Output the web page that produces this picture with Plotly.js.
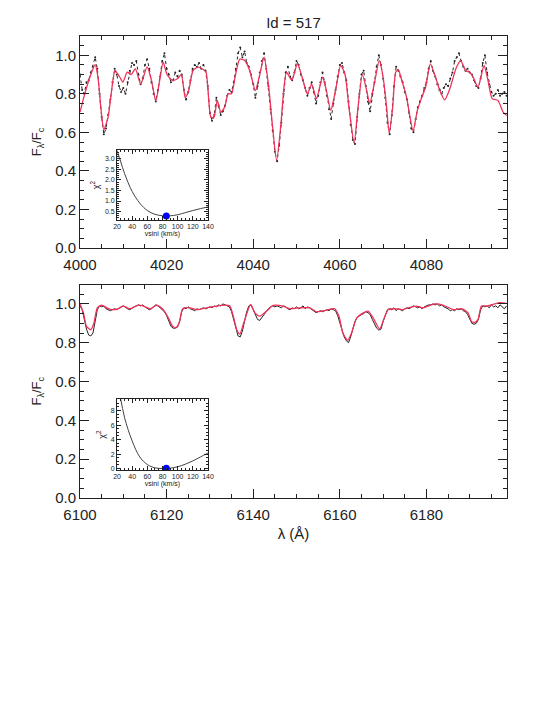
<!DOCTYPE html>
<html>
<head>
<meta charset="utf-8">
<script src="https://cdn.plot.ly/plotly-3.0.1.min.js"></script>
<style>
  html, body { margin: 0; padding: 0; background: #fff; }
  #chart { width: 534px; height: 712px; }
</style>
</head>
<body>
<div id="chart"></div>
<script>
// Id = 517 : observed spectrum (dots / black) and synthetic fit (red), two windows

// --- window 1 : 4000-4099 A ---
var fitBlueWave = [4000.0, 4001.1, 4002.5, 4003.5, 4004.15, 4004.8, 4005.5, 4006.5, 4007.2, 4008.1,
  4009.2, 4009.9, 4010.9, 4011.8, 4012.8, 4014.0, 4015.5, 4016.5, 4017.5, 4018.4,
  4019.2, 4020.1, 4021.3, 4022.5, 4023.4, 4024.3, 4025.1, 4026.1, 4027.2, 4028.2,
  4029.1, 4030.2, 4030.9, 4031.7, 4032.5, 4033.4, 4034.2, 4035.0, 4035.8, 4036.9,
  4038.1, 4039.2, 4040.5, 4041.5, 4042.5, 4043.5, 4044.4, 4045.4, 4046.4, 4047.1,
  4047.7, 4048.9, 4050.2, 4051.3, 4052.5, 4053.5, 4054.6, 4056.0, 4056.9, 4057.9,
  4059.0, 4060.2, 4061.2, 4062.1, 4063.3, 4064.2, 4065.2, 4066.2, 4066.9, 4068.1,
  4069.1, 4070.0, 4070.8, 4071.4, 4072.2, 4072.9, 4073.5, 4074.2, 4075.4, 4076.9,
  4077.9, 4078.8, 4079.8, 4080.9, 4081.9, 4083.1, 4084.2, 4085.4, 4086.8, 4087.9,
  4089.1, 4090.0, 4090.8, 4091.9, 4093.3, 4094.2, 4095.2, 4096.5, 4097.7, 4098.5];
var fitBlueFlux = [0.705, 0.80, 0.90, 0.952, 0.886, 0.731, 0.614, 0.68, 0.80, 0.92,
  0.886, 0.86, 0.912, 0.90, 0.93, 0.85, 0.94, 0.87, 0.762, 0.87,
  0.964, 0.90, 0.87, 0.878, 0.90, 0.78, 0.817, 0.92, 0.938, 0.93,
  0.912, 0.68, 0.676, 0.766, 0.705, 0.73, 0.80, 0.80, 0.886, 0.98,
  0.972, 0.92, 0.817, 0.90, 0.99, 0.85, 0.645, 0.455, 0.645, 0.834,
  0.912, 0.87, 0.955, 0.886, 0.80, 0.85, 0.774, 0.886, 0.817, 0.714,
  0.817, 0.947, 0.90, 0.73, 0.545, 0.73, 0.90, 0.817, 0.749, 0.87,
  0.972, 0.886, 0.73, 0.596, 0.73, 0.912, 0.925, 0.878, 0.783, 0.607,
  0.714, 0.774, 0.834, 0.955, 0.90, 0.817, 0.769, 0.826, 0.93, 0.972,
  0.92, 0.912, 0.886, 0.834, 0.947, 0.87, 0.774, 0.766, 0.705, 0.688];

// observed flux, sampled every 0.5 A from 4000.0
var obsBlueStart = 4000.0;
var obsBlueFlux = [
  0.90, 0.82, 0.80, 0.86, 0.87, 0.91, 0.94, 0.99, 0.93, 0.80,
  0.68, 0.59, 0.62, 0.69, 0.77, 0.86, 0.93, 0.90, 0.84, 0.81,
  0.83, 0.80, 0.86, 0.92, 0.96, 0.95, 0.97, 0.90, 0.85, 0.88,
  0.95, 0.98, 0.93, 0.86, 0.80, 0.76, 0.82, 0.89, 0.97, 1.01,
  0.93, 0.90, 0.86, 0.87, 0.91, 0.89, 0.92, 0.90, 0.82, 0.77,
  0.81, 0.87, 0.93, 0.95, 0.94, 0.96, 0.93, 0.95, 0.92, 0.84,
  0.70, 0.66, 0.69, 0.78, 0.74, 0.69, 0.71, 0.74, 0.79, 0.82,
  0.81, 0.86, 0.93, 1.01, 1.04, 0.99, 1.02, 0.96, 0.94, 0.90,
  0.85, 0.78, 0.84, 0.91, 0.97, 1.01, 0.93, 0.84, 0.72, 0.61,
  0.50, 0.45, 0.53, 0.65, 0.80, 0.91, 0.94, 0.89, 0.87, 0.91,
  0.97, 0.95, 0.90, 0.87, 0.83, 0.79, 0.83, 0.86, 0.81, 0.75,
  0.79, 0.86, 0.91, 0.86, 0.79, 0.72, 0.67, 0.75, 0.82, 0.89,
  0.95, 0.96, 0.91, 0.87, 0.76, 0.64, 0.56, 0.54, 0.68, 0.80,
  0.90, 0.92, 0.84, 0.76, 0.71, 0.80, 0.86, 0.94, 1.00, 0.95,
  0.88, 0.78, 0.65, 0.59, 0.69, 0.84, 0.94, 0.92, 0.89, 0.86,
  0.81, 0.77, 0.70, 0.62, 0.60, 0.67, 0.73, 0.76, 0.79, 0.83,
  0.86, 0.93, 0.97, 0.92, 0.89, 0.85, 0.82, 0.80, 0.83, 0.85,
  0.84, 0.88, 0.91, 0.97, 0.99, 1.01, 0.97, 0.94, 0.92, 0.93,
  0.91, 0.90, 0.87, 0.84, 0.83, 0.88, 0.96, 1.00, 0.91, 0.85,
  0.81, 0.79, 0.80, 0.82, 0.79, 0.80, 0.81, 0.79];

// --- window 2 : 6100-6199 A ---
var fitRedWave = [6100.0, 6100.8, 6101.5, 6102.5, 6103.2, 6104.0, 6105.0, 6106.2, 6107.3, 6108.8,
  6110.0, 6111.5, 6113.5, 6114.5, 6116.2, 6117.7, 6119.2, 6120.4, 6121.4, 6122.2,
  6122.9, 6123.7, 6125.4, 6126.9, 6129.2, 6131.5, 6133.5, 6134.6, 6135.4, 6136.2,
  6136.9, 6137.8, 6139.4, 6140.4, 6141.5, 6143.1, 6144.6, 6146.9, 6148.5, 6150.8,
  6153.1, 6154.6, 6156.5, 6158.8, 6159.8, 6160.7, 6161.8, 6162.7, 6163.9, 6165.4,
  6166.5, 6167.7, 6169.2, 6170.4, 6171.2, 6172.7, 6174.6, 6175.8, 6177.7, 6179.2,
  6181.9, 6183.8, 6186.2, 6188.1, 6189.6, 6190.4, 6191.2, 6191.9, 6192.7, 6193.9,
  6195.4, 6196.9, 6198.5];
var fitRedFlux = [1.0, 0.954, 0.884, 0.867, 0.90, 0.98, 0.994, 0.98, 0.971, 0.975,
  0.989, 0.975, 0.994, 0.99, 0.975, 0.994, 0.971, 0.928, 0.884, 0.879,
  0.902, 0.975, 0.98, 0.971, 0.98, 0.989, 0.994, 0.989, 0.937, 0.867,
  0.845, 0.902, 0.997, 0.954, 0.937, 0.963, 0.992, 0.989, 0.975, 0.98,
  0.98, 0.959, 0.966, 0.975, 0.937, 0.85, 0.812, 0.85, 0.928, 0.954,
  0.963, 0.928, 0.871, 0.937, 0.971, 0.975, 0.971, 0.98, 0.989, 0.98,
  1.0, 0.994, 0.971, 0.976, 0.954, 0.91, 0.905, 0.92, 0.989, 0.989,
  0.997, 1.006, 1.003];

var obsRedStart = 6100.0;
var obsRedFlux = [
  0.99, 0.97, 0.92, 0.87, 0.84, 0.835, 0.85, 0.91, 0.97, 0.99,
  0.985, 0.99, 0.975, 0.97, 0.965, 0.97, 0.975, 0.97, 0.98, 0.985,
  0.99, 0.98, 0.975, 0.97, 0.98, 0.985, 0.99, 0.995, 0.99, 0.995,
  0.985, 0.975, 0.97, 0.975, 0.985, 0.995, 0.99, 0.98, 0.975, 0.96,
  0.94, 0.91, 0.885, 0.875, 0.875, 0.88, 0.91, 0.96, 0.98, 0.975,
  0.985, 0.975, 0.97, 0.965, 0.975, 0.97, 0.975, 0.98, 0.975, 0.98,
  0.985, 0.98, 0.99, 0.985, 0.995, 0.99, 1.0, 0.995, 0.99, 0.985,
  0.96, 0.92, 0.87, 0.835, 0.83, 0.86, 0.91, 0.96, 0.99, 0.995,
  0.97, 0.94, 0.92, 0.915, 0.93, 0.95, 0.96, 0.975, 0.985, 0.99,
  0.985, 0.99, 0.985, 0.98, 0.99, 0.985, 0.975, 0.97, 0.98, 0.975,
  0.985, 0.975, 0.98, 0.99, 0.975, 0.985, 0.98, 0.97, 0.96, 0.955,
  0.96, 0.965, 0.96, 0.965, 0.97, 0.965, 0.975, 0.97, 0.965, 0.94,
  0.90, 0.86, 0.83, 0.81, 0.80, 0.83, 0.87, 0.91, 0.93, 0.94,
  0.945, 0.95, 0.96, 0.955, 0.945, 0.92, 0.90, 0.875, 0.865, 0.87,
  0.91, 0.945, 0.97, 0.975, 0.97, 0.98, 0.965, 0.975, 0.97, 0.965,
  0.975, 0.98, 0.975, 0.985, 0.99, 0.985, 0.98, 0.985, 0.975, 0.985,
  0.99, 0.995, 0.995, 1.0, 0.995, 1.0, 0.99, 0.995, 0.985, 0.98,
  0.975, 0.965, 0.97, 0.965, 0.975, 0.97, 0.975, 0.965, 0.96, 0.945,
  0.92, 0.90, 0.895, 0.90, 0.92, 0.97, 0.99, 0.985, 0.99, 0.98,
  0.995, 0.985, 0.99, 0.98, 0.995, 0.985, 0.975, 0.99];

// chi2 vs vsini insets
var vsiniGrid = [20, 25, 30, 40, 50, 60, 70, 80, 85, 90, 100, 110, 120, 130, 140];
var chiBlue = [3.40, 2.85, 2.30, 1.45, 0.90, 0.55, 0.37, 0.30, 0.29, 0.30, 0.35, 0.45, 0.55, 0.64, 0.72];
var chiRed = [11.5, 9.5, 7.0, 3.8, 1.6, 0.55, 0.10, 0.0, 0.0, 0.05, 0.25, 0.60, 1.05, 1.60, 2.15];
var bestVsini = [85, 85];
var bestChi = [0.29, 0.05];

function waveGrid(start, n) {
  var out = [];
  for (var i = 0; i < n; i++) { out.push(start + 0.5 * i); }
  return out;
}

var INK = '#222';
var FIT = '#f0325a';
var FONT = 'Liberation Sans, Arial, sans-serif';

// observed first, fit drawn over it
var traces = [
  { x: waveGrid(obsBlueStart, obsBlueFlux.length), y: obsBlueFlux, xaxis: 'x', yaxis: 'y',
    mode: 'lines+markers', type: 'scatter', line: { color: INK, width: 1, dash: 'dot' },
    marker: { size: 2, color: INK } },
  { x: fitBlueWave, y: fitBlueFlux, xaxis: 'x', yaxis: 'y', mode: 'lines', type: 'scatter',
    line: { color: FIT, width: 1.3, shape: 'spline', smoothing: 0.6 } },
  { x: waveGrid(obsRedStart, obsRedFlux.length), y: obsRedFlux, xaxis: 'x2', yaxis: 'y2',
    mode: 'lines', type: 'scatter', line: { color: INK, width: 1 } },
  { x: fitRedWave, y: fitRedFlux, xaxis: 'x2', yaxis: 'y2', mode: 'lines', type: 'scatter',
    line: { color: FIT, width: 1.3, shape: 'spline', smoothing: 0.6 } },
  { x: vsiniGrid, y: chiBlue, xaxis: 'x3', yaxis: 'y3', mode: 'lines', type: 'scatter',
    line: { color: '#444', width: 1, shape: 'spline' } },
  { x: [bestVsini[0]], y: [bestChi[0]], xaxis: 'x3', yaxis: 'y3', mode: 'markers', type: 'scatter',
    marker: { size: 7, color: '#0000ff' } },
  { x: vsiniGrid, y: chiRed, xaxis: 'x4', yaxis: 'y4', mode: 'lines', type: 'scatter',
    line: { color: '#444', width: 1, shape: 'spline' } },
  { x: [bestVsini[1]], y: [bestChi[1]], xaxis: 'x4', yaxis: 'y4', mode: 'markers', type: 'scatter',
    marker: { size: 7, color: '#0000ff' } }
];

function mainX(range, anchor, title) {
  var ax = {
    range: range, anchor: anchor, domain: [0, 1],
    showline: true, linecolor: INK, linewidth: 1, mirror: 'ticks',
    ticks: 'inside', ticklen: 9, tickcolor: INK, dtick: 20, tick0: range[0],
    minor: { dtick: 5, ticks: 'inside', ticklen: 4, tickcolor: INK },
    showgrid: false, zeroline: false, ticklabelstandoff: 3,
    tickfont: { family: FONT, size: 15, color: INK }
  };
  if (title) { ax.title = { text: title, font: { family: FONT, size: 15, color: INK }, standoff: 6 }; }
  return ax;
}

function mainY(domain, anchor) {
  return {
    range: [0, 1.1], domain: domain, anchor: anchor,
    showline: true, linecolor: INK, linewidth: 1, mirror: 'ticks',
    ticks: 'inside', ticklen: 9, tickcolor: INK, dtick: 0.2, tick0: 0, tickformat: '.1f',
    minor: { dtick: 0.05, ticks: 'inside', ticklen: 4, tickcolor: INK },
    showgrid: false, zeroline: false,
    tickfont: { family: FONT, size: 15, color: INK },
    title: { text: 'F<sub>λ</sub>/F<sub>c</sub>', font: { family: FONT, size: 13, color: INK }, standoff: 10 }
  };
}

function insetX(anchor) {
  return {
    range: [20, 140], domain: [0.0867, 0.2998], anchor: anchor,
    showline: true, linecolor: INK, linewidth: 1, mirror: 'ticks',
    ticks: 'inside', ticklen: 4, tickcolor: INK, dtick: 20, tick0: 20, tickangle: 0,
    minor: { dtick: 5, ticks: 'inside', ticklen: 2, tickcolor: INK },
    showgrid: false, zeroline: false,
    tickfont: { family: FONT, size: 7, color: INK },
    title: { text: 'vsini (km/s)', font: { family: FONT, size: 7, color: INK }, standoff: 1 }
  };
}

function insetY(range, domain, anchor, dtick, minorDtick) {
  var ax = {
    range: range, domain: domain, anchor: anchor,
    showline: true, linecolor: INK, linewidth: 1, mirror: 'ticks',
    ticks: 'inside', ticklen: 4, tickcolor: INK, dtick: dtick, tick0: 0,
    minor: { dtick: minorDtick, ticks: 'inside', ticklen: 2, tickcolor: INK },
    showgrid: false, zeroline: false,
    tickfont: { family: FONT, size: 7, color: INK },
    title: { text: 'χ<sup>2</sup>', font: { family: FONT, size: 9, color: INK }, standoff: 3 }
  };
  if (dtick < 1) { ax.tickformat = '.1f'; }
  return ax;
}

var layout = {
  width: 534, height: 712,
  margin: { l: 80, r: 27, t: 36, b: 214 },
  paper_bgcolor: '#fff', plot_bgcolor: '#fff',
  showlegend: false,
  title: { text: 'Id = 517', x: 0.5, xanchor: 'center', xref: 'paper', y: 0.968, yanchor: 'middle',
    font: { family: FONT, size: 15, color: INK } },
  xaxis: mainX([4000, 4098.6], 'y'),
  yaxis: mainY([0.5411, 1], 'x'),
  xaxis2: mainX([6100, 6198.6], 'y2', 'λ (Å)'),
  yaxis2: mainY([0, 0.4621], 'x2'),
  xaxis3: insetX('y3'),
  yaxis3: insetY([0.1, 3.42], [0.6017, 0.7532], 'x3', 0.5, 0.1),
  xaxis4: insetX('y4'),
  yaxis4: insetY([-0.2, 9.6], [0.0606, 0.2143], 'x4', 2, 0.5)
};

Plotly.newPlot('chart', traces, layout, { displayModeBar: false, staticPlot: true });
</script>
</body>
</html>
